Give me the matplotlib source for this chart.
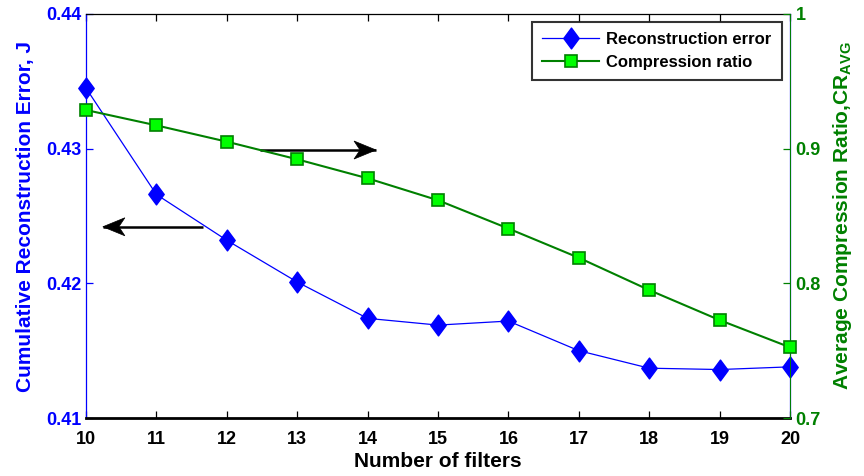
import matplotlib
matplotlib.use("Agg")
import matplotlib.pyplot as plt
from matplotlib.path import Path
from matplotlib.patches import Polygon
from matplotlib.transforms import ScaledTranslation

plt.rcParams['font.family'] = ['Liberation Sans', 'DejaVu Sans']
plt.rcParams['font.weight'] = 'bold'
plt.rcParams['mathtext.fontset'] = 'custom'
plt.rcParams['mathtext.rm'] = 'Liberation Sans:bold'
plt.rcParams['mathtext.bf'] = 'Liberation Sans:bold'

# Data
num_filters = [10, 11, 12, 13, 14, 15, 16, 17, 18, 19, 20]
recon_error = [0.4345, 0.4266, 0.4232, 0.4201, 0.4174, 0.4169, 0.4172,
               0.4150, 0.4137, 0.4136, 0.4138]
compression_ratio = [0.9287, 0.9173, 0.9052, 0.8921, 0.8780, 0.8617,
                     0.8407, 0.8190, 0.7950, 0.7727, 0.7525]

left_ticks = [0.41, 0.42, 0.43, 0.44]
left_ticklabels = ['0.41', '0.42', '0.43', '0.44']
right_ticks = [0.7, 0.8, 0.9, 1.0]
right_ticklabels = ['0.7', '0.8', '0.9', '1']

BLUE = (0, 0, 1)
DGREEN = (0, 0.5, 0)
LIME = (0, 1, 0)

# tall diamond marker
diamond = Path([(0, 1), (0.74, 0), (0, -1), (-0.74, 0), (0, 1)],
               [Path.MOVETO, Path.LINETO, Path.LINETO, Path.LINETO, Path.CLOSEPOLY])

fig = plt.figure(figsize=(8.64, 4.76), dpi=100)
ax1 = fig.add_axes([0.0995, 0.1218, 0.8149, 0.8488])
ax2 = ax1.twinx()

l1, = ax1.plot(num_filters, recon_error, color=BLUE, lw=0.9, marker=diamond,
               ms=15, mfc=BLUE, mec=BLUE, label='Reconstruction error', zorder=3)
l2, = ax2.plot(num_filters, compression_ratio, color=DGREEN, lw=1.5, marker='s',
               ms=8.5, mfc=LIME, mec=DGREEN, mew=1.2, label='Compression ratio',
               zorder=3, clip_on=False)
l1.set_clip_on(False)

ax1.set_xlim(10, 20)
ax1.set_ylim(0.41, 0.44)
ax2.set_ylim(0.7, 1.0)

ax1.set_xticks(num_filters)
ax1.set_xticklabels([str(v) for v in num_filters])
ax1.set_yticks(left_ticks)
ax1.set_yticklabels(left_ticklabels)
ax2.set_yticks(right_ticks)
ax2.set_yticklabels(right_ticklabels)

ax1.tick_params(axis='x', direction='in', length=5, width=0.9, colors='black',
                labelsize=13, pad=9, top=True)
ax1.tick_params(axis='y', direction='in', length=5, width=0.9, colors=BLUE,
                labelsize=13, pad=3)
ax2.tick_params(axis='y', direction='in', length=5, width=0.9, colors=DGREEN,
                labelsize=13, pad=4)

for lab in ax1.get_xticklabels() + ax1.get_yticklabels() + ax2.get_yticklabels():
    lab.set_fontweight('bold')

ax1.spines['bottom'].set_linewidth(2.0)
ax1.spines['bottom'].set_color('black')
ax1.spines['top'].set_linewidth(0.9)
ax1.spines['top'].set_color('black')
ax1.spines['left'].set_color(BLUE)
ax1.spines['left'].set_linewidth(0.9)
ax1.spines['right'].set_color(BLUE)
ax1.spines['right'].set_linewidth(0.9)
ax2.spines['right'].set_color(DGREEN)
ax2.spines['right'].set_linewidth(0.7)
for s in ['left', 'top', 'bottom']:
    ax2.spines[s].set_visible(False)

ax1.set_xlabel('Number of filters', fontsize=15, fontweight='bold', labelpad=3)
ax1.set_ylabel('Cumulative Reconstruction Error, J', fontsize=15,
               fontweight='bold', color=BLUE, labelpad=8.5)
ax2.set_ylabel(r'Average Compression Ratio,CR$_{\mathbf{AVG}}$', fontsize=15,
               fontweight='bold', color=DGREEN, labelpad=7.5)


def draw_arrow(ax, x_tail, x_tip, y):
    """Horizontal arrow with a swept-back (notched) head, sized in inches."""
    direction = 1 if x_tip > x_tail else -1
    ax.plot([x_tail, x_tip], [y, y], color='black', lw=1.8,
            solid_capstyle='butt', zorder=4)
    L, H, N = 0.22, 0.09, 0.16  # head length, half height, notch position
    verts = [(0, 0), (-direction * L, H), (-direction * N, 0),
             (-direction * L, -H)]
    trans = fig.dpi_scale_trans + ScaledTranslation(x_tip, y, ax.transData)
    ax.add_patch(Polygon(verts, closed=True, facecolor='black',
                         edgecolor='black', lw=0.5, transform=trans, zorder=5))


# arrows pointing to the axis each curve belongs to
draw_arrow(ax1, 11.66, 10.24, 0.4242)
draw_arrow(ax1, 12.47, 14.12, 0.4299)

leg = ax2.legend(handles=[l1, l2], loc='upper right',
                 prop={'weight': 'bold', 'size': 12}, frameon=True, fancybox=False,
                 edgecolor='black', borderaxespad=0.5, handlelength=3.4,
                 handletextpad=0.45, borderpad=0.6, labelspacing=0.45)
leg.get_frame().set_linewidth(1.5)

fig.savefig('out.png', dpi=100)
